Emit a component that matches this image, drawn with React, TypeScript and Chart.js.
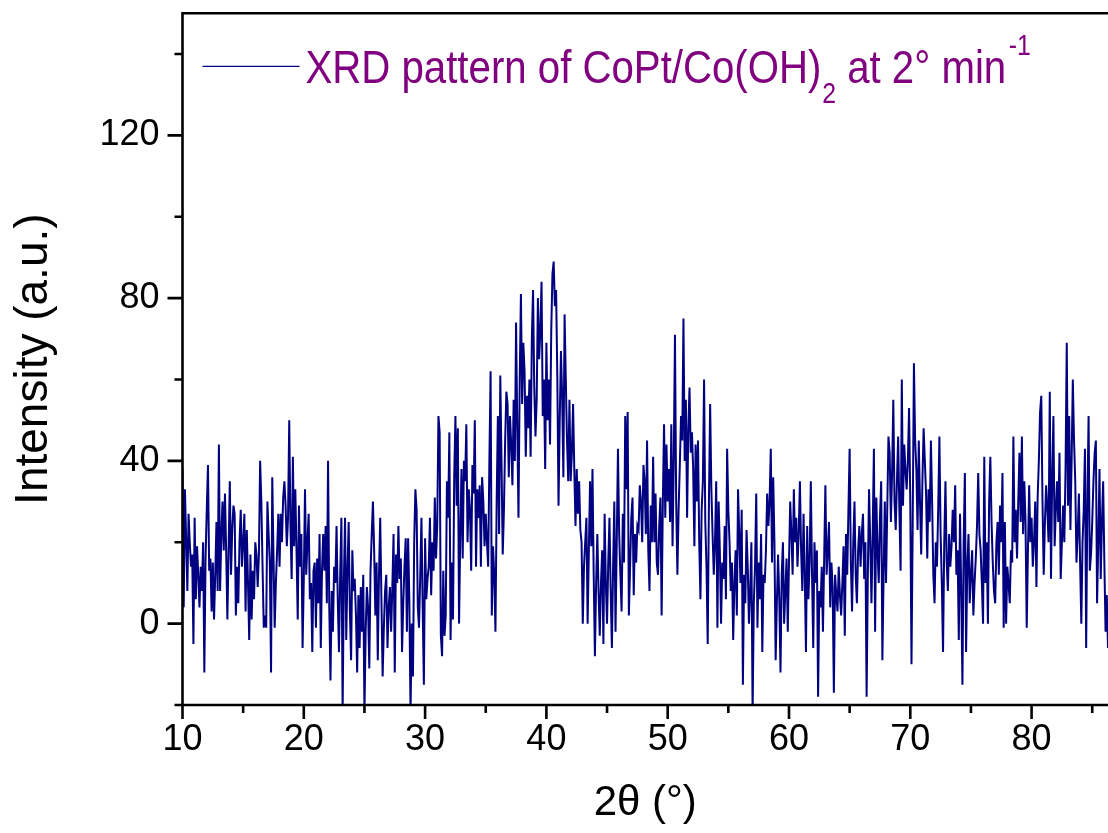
import React, { useEffect, useRef } from 'react';
import { Chart, registerables } from 'chart.js';

Chart.register(...registerables);

// ---- data (2θ scan, 0.1° step starting at 10°) ----
const X_START = 10;
const X_STEP = 0.1;

const intensity10to20 = [
  38, 4, 33, 21, 8, 27, 20, 14, 17, -5,
  26, 6, 19, 12, 4, 14, 8, 20, -12, 16,
  28, 39, 13, 16, 3, 15, 1, 12, 25, 8,
  44, 8, 22, 30, 18, 32, 18, 1, 18, 35,
  12, 23, 29, 27, 2, 14, 5, 20, 28, 14,
  20, 27, 3, 23, 10, -4, 17, 1, 13, 6,
  20, 17, 9, 17, 40, 30, 14, -1, 2, -1,
  30, 22, 15, -12, 36, 17, -1, 10, 18, 27,
  14, 27, 20, 31, 35, 29, 19, 26, 50, 24,
  11, 41, 19, 33, 18, 1, 29, 14, 22, -6,
];
const intensity20to30 = [
  11, 33, 12, 20, 27, 6, 10, -7, 13, 15,
  -1, 16, 5, 22, -6, 13, 22, 13, 24, 5,
  40, 4, -14, 8, -2, 14, 10, 24, 6, -7,
  12, 26, -22, 10, 26, -4, 13, 25, 3, -9,
  18, 8, 11, 2, -12, 7, -6, 9, -2, 12,
  -22, -2, 9, 4, -11, 13, 22, 30, 18, 2,
  15, -9, 12, 26, 6, -13, -1, 8, 12, -6,
  4, 9, -2, 9, 22, -12, 17, 10, 24, 11,
  16, -7, 5, 14, 21, -2, 21, 6, -22, 0,
  -13, 20, 33, 28, 4, -1, 12, 26, 4, -15,
];
const intensity30to40 = [
  21, 6, 11, 14, 26, 7, 20, 13, 31, 16,
  24, 51, 47, -3, -8, 13, -3, 2, 35, 26,
  47, -4, 15, 1, 36, 51, 29, 48, 0, 22,
  38, 16, 40, 35, 49, 20, 33, 28, 13, 39,
  32, 50, 14, 33, 26, 34, 14, 36, 30, 19,
  27, 20, 14, 40, 62, 2, 19, 12, -2, 30,
  51, 22, 61, 40, 17, 28, 45, 57, 54, 36,
  51, 44, 34, 55, 40, 74, 48, 26, 60, 81,
  54, 69, 62, 41, 56, 48, 60, 41, 70, 82,
  58, 46, 55, 80, 65, 72, 84, 51, 60, 38,
];
const intensity40to50 = [
  69, 50, 60, 44, 72, 86, 89, 78, 82, 61,
  29, 50, 67, 56, 36, 76, 60, 45, 35, 55,
  35, 42, 54, 38, 24, 38, 27, 35, 23, 20,
  0, 14, 20, 26, 0, 18, 35, 19, 38, 12,
  -8, 10, 22, 8, -3, 10, 18, -5, 27, 10,
  0, 15, 26, 8, -6, 14, 30, -2, 20, 43,
  22, 12, 3, 27, 15, 51, 33, 52, 2, 14,
  26, 31, 7, 22, 15, 24, 23, 34, 30, 20,
  39, 35, 22, 45, 18, 8, 29, 20, 41, 20,
  32, 15, 12, 24, 31, 2, 30, 49, 26, 44,
];
const intensity50to60 = [
  30, 38, 25, 49, 19, 40, 71, 30, 12, 28,
  39, 51, 45, 75, 40, 55, 26, 48, 58, 42,
  47, 38, 19, 44, 30, 45, 20, 6, 28, 35,
  60, 25, 14, -5, 30, 54, 33, 22, 12, 20,
  35, -1, 30, 18, 0, 15, 11, 24, 6, 43,
  28, 20, 8, 15, -4, 10, 18, 2, 33, 22,
  10, 28, -15, 12, 5, 23, 14, 0, 8, 20,
  -22, 5, 14, 32, -1, 15, 6, 22, -7, 12,
  10, 18, 32, 24, 30, 43, 15, 36, 20, -9,
  5, 17, 6, -12, 12, 20, 0, 8, 16, -2,
];
const intensity60to70 = [
  15, 30, 22, 12, 33, 20, 26, 14, 22, 35,
  18, 8, 27, 12, -7, 24, 6, 15, 35, 12,
  -6, 20, 10, 18, -18, 8, 4, 14, -2, 16,
  34, 12, 18, 25, 4, 15, 9, -17, 12, 7,
  3, 14, 7, 2, 10, 19, -3, 22, 12, 28,
  43, 15, 3, 20, 30, 12, 5, 18, 24, 14,
  22, 27, 11, 20, -18, 12, 33, 20, 5, 22,
  43, -2, 31, 18, 10, 26, 35, -9, 12, 30,
  10, 28, 46, 42, 25, 37, 55, 30, 23, 35,
  46, 28, 13, 60, 29, 44, 38, 33, 40, 53,
];
const intensity70to80 = [
  30, -10, 25, 64, 45, 38, 23, 45, 30, 17,
  35, 48, 40, 32, 16, 33, 25, 45, 30, 12,
  5, 20, 14, 28, 46, 22, 10, -7, 20, 35,
  15, 8, 22, 14, 19, 28, 20, 34, 12, 18,
  -4, 27, 8, -15, 20, 37, -7, 14, 22, 5,
  12, 18, 2, 10, 16, 24, 37, 22, 18, 10,
  0, 41, 10, 20, 0, 30, 41, 25, 15, 8,
  5, 20, 25, 12, 29, 20, 37, -1, 25, 0,
  14, 10, 5, 18, 15, 46, 20, 28, 16, 30,
  42, 25, 46, 22, 35, 25, -1, 18, 34, 20,
];
const intensity80to87 = [
  26, 14, 20, 30, 9, 31, 40, 52, 56, 30,
  12, 25, 34, 28, 20, 57, 11, 36, 51, 19,
  28, 35, 25, 42, 11, 20, 29, 20, 38, 69,
  29, 51, 23, 40, 60, 45, 35, 15, 22, 32,
  15, 0, 20, 28, 43, -6, 30, 51, 13, 17,
  25, 35, 42, 45, 5, 20, 38, 11, 25, 35,
  15, -2, 7, -6, 5,
];

// ---- axes ----
const X_MIN = 10;
const X_MAX = 86.3;
const Y_MIN = -20;
const Y_MAX = 150;
const xMajorTicks = [10, 20, 30, 40, 50, 60, 70, 80];
const xMinorTicks = [15, 25, 35, 45, 55, 65, 75, 85];
const yMajorTicks = [0, 40, 80, 120];
const yMinorTicks = [-20, 20, 60, 100, 140];

// ---- text ----
const xTitle = '2θ (°)';
const yTitle = 'Intensity (a.u.)';
const legendMain = 'XRD pattern of CoPt/Co(OH)';
const legendSub = '2';
const legendMid = ' at 2° min';
const legendSup = '-1';

// ---- style ----
const FONT = '"Liberation Sans", Arial, Helvetica, sans-serif';
const LINE_COLOR = '#000080';
const LEGEND_COLOR = '#800080';

const framePlugin = {
  id: 'originFrame',
  afterDatasetsDraw(chart: any) {
    const { ctx, chartArea: a, scales } = chart;
    const xs = scales.x;
    const ys = scales.y;
    ctx.save();
    ctx.strokeStyle = '#000';
    ctx.lineWidth = 2.6;
    ctx.lineJoin = 'miter';
    ctx.beginPath();
    ctx.moveTo(a.right + 5, a.top);
    ctx.lineTo(a.left, a.top);
    ctx.lineTo(a.left, a.bottom);
    ctx.lineTo(a.right + 5, a.bottom);
    ctx.stroke();
    ctx.beginPath();
    for (const v of yMajorTicks) {
      const p = ys.getPixelForValue(v);
      ctx.moveTo(a.left - 15, p);
      ctx.lineTo(a.left, p);
    }
    for (const v of yMinorTicks) {
      const p = ys.getPixelForValue(v);
      ctx.moveTo(a.left - 8, p);
      ctx.lineTo(a.left, p);
    }
    for (const v of xMajorTicks) {
      const p = xs.getPixelForValue(v);
      if (p > a.right + 2) continue;
      ctx.moveTo(p, a.bottom);
      ctx.lineTo(p, a.bottom + 14);
    }
    for (const v of xMinorTicks) {
      const p = xs.getPixelForValue(v);
      if (p > a.right + 2) continue;
      ctx.moveTo(p, a.bottom);
      ctx.lineTo(p, a.bottom + 8);
    }
    ctx.stroke();
    ctx.restore();
  },
};

const legendPlugin = {
  id: 'originLegend',
  afterDraw(chart: any) {
    const { ctx, chartArea: a } = chart;
    const lineY = a.top + 53;
    const lineX0 = a.left + 20;
    const lineX1 = a.left + 117;
    ctx.save();
    ctx.strokeStyle = LINE_COLOR;
    ctx.lineWidth = 1.2;
    ctx.beginPath();
    ctx.moveTo(lineX0, lineY);
    ctx.lineTo(lineX1, lineY);
    ctx.stroke();

    const baseline = a.top + 70;
    ctx.fillStyle = LEGEND_COLOR;
    ctx.textBaseline = 'alphabetic';
    ctx.textAlign = 'left';
    ctx.translate(a.left + 123, baseline);
    ctx.scale(0.855, 1);
    let cx = 0;
    ctx.font = `47px ${FONT}`;
    ctx.fillText(legendMain, cx, 0);
    cx += ctx.measureText(legendMain).width;
    ctx.font = `29px ${FONT}`;
    ctx.fillText(legendSub, cx + 1, 20);
    cx += ctx.measureText(legendSub).width + 1;
    ctx.font = `47px ${FONT}`;
    ctx.fillText(legendMid, cx, 0);
    cx += ctx.measureText(legendMid).width;
    ctx.font = `29px ${FONT}`;
    ctx.fillText(legendSup, cx + 3, -28);
    ctx.restore();
  },
};

export default function App() {
  const canvasRef = useRef<HTMLCanvasElement | null>(null);

  useEffect(() => {
    const canvas = canvasRef.current;
    if (!canvas) return;
    const intensity = [
      ...intensity10to20,
      ...intensity20to30,
      ...intensity30to40,
      ...intensity40to50,
      ...intensity50to60,
      ...intensity60to70,
      ...intensity70to80,
      ...intensity80to87,
    ];
    const points = intensity.map((y, i) => ({ x: Math.round((X_START + i * X_STEP) * 100) / 100, y }));

    const chart = new Chart(canvas, {
      type: 'line',
      data: {
        datasets: [
          {
            label: legendMain + legendSub + legendMid + legendSup,
            data: points,
            borderColor: LINE_COLOR,
            borderWidth: 2,
            pointRadius: 0,
            tension: 0,
            fill: false,
          },
        ],
      },
      options: {
        responsive: false,
        animation: false,
        events: [],
        layout: { padding: { left: 0, right: 0, top: 13.3, bottom: 0 } },
        plugins: {
          legend: { display: false },
          tooltip: { enabled: false },
        },
        scales: {
          x: {
            type: 'linear',
            min: X_MIN,
            max: X_MAX,
            grid: { display: false, drawTicks: false },
            border: { display: false },
            afterBuildTicks: (s: any) => {
              s.ticks = xMajorTicks.map((v) => ({ value: v }));
            },
            afterFit: (s: any) => {
              s.height = 128;
              s.paddingLeft = 0;
              s.paddingRight = 0;
            },
            ticks: {
              autoSkip: false,
              maxRotation: 0,
              padding: 13,
              color: '#000',
              font: { family: FONT, size: 36 },
            },
            title: {
              display: true,
              text: xTitle,
              color: '#000',
              font: { family: FONT, size: 42 },
              padding: { top: 0, bottom: 4 },
            },
          },
          y: {
            type: 'linear',
            min: Y_MIN,
            max: Y_MAX,
            grid: { display: false, drawTicks: false },
            border: { display: false },
            afterBuildTicks: (s: any) => {
              s.ticks = yMajorTicks.map((v) => ({ value: v }));
            },
            afterFit: (s: any) => {
              s.width = 182.5;
              s.paddingTop = 0;
              s.paddingBottom = 0;
            },
            ticks: {
              padding: 23,
              color: '#000',
              font: { family: FONT, size: 36 },
            },
            title: {
              display: true,
              text: yTitle,
              color: '#000',
              font: { family: FONT, size: 46 },
              padding: { top: 7, bottom: 0 },
            },
          },
        },
      },
      plugins: [framePlugin, legendPlugin],
    });

    return () => {
      chart.destroy();
    };
  }, []);

  return (
    <div
      style={{
        position: 'fixed',
        left: 0,
        top: 0,
        width: 1108,
        height: 833,
        overflow: 'hidden',
        background: '#fff',
      }}
    >
      <canvas ref={canvasRef} width={1108} height={833} style={{ display: 'block', width: 1108, height: 833 }} />
    </div>
  );
}
